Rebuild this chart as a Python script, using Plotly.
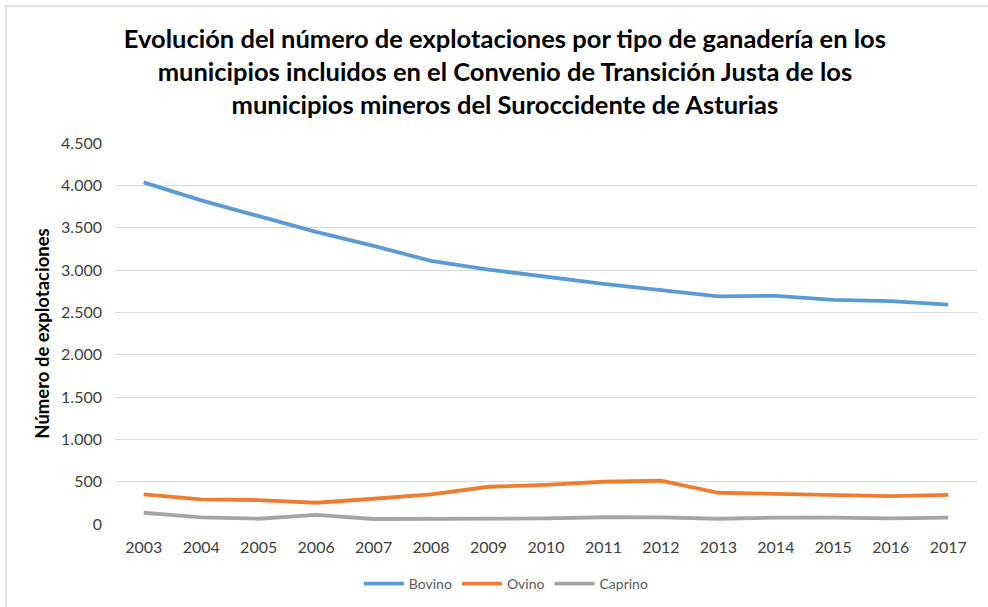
import plotly.graph_objects as go

# Años de la serie
years = ["2003", "2004", "2005", "2006", "2007", "2008", "2009", "2010",
         "2011", "2012", "2013", "2014", "2015", "2016", "2017"]

# Número de explotaciones por tipo de ganadería
bovino = [4035, 3822, 3636, 3450, 3285, 3108, 3005, 2918,
          2836, 2763, 2688, 2695, 2648, 2632, 2590]
ovino = [349, 290, 283, 251, 298, 349, 440, 462,
         499, 511, 369, 357, 342, 330, 345]
caprino = [133, 78, 62, 108, 59, 62, 62, 66,
           80, 78, 62, 76, 76, 66, 76]

series = [("Bovino", bovino, "#5B9BD5"),
          ("Ovino", ovino, "#ED7D31"),
          ("Caprino", caprino, "#A5A5A5")]

y_ticks = [0, 500, 1000, 1500, 2000, 2500, 3000, 3500, 4000, 4500]
y_tick_text = ["0", "500", "1.000", "1.500", "2.000", "2.500",
               "3.000", "3.500", "4.000", "4.500"]

title = ("Evolución del número de explotaciones por tipo de ganadería en los<br>"
         "municipios incluidos en el Convenio de Transición Justa de los<br>"
         "municipios mineros del Suroccidente de Asturias")

fig = go.Figure()
for name, values, color in series:
    fig.add_trace(go.Scatter(
        x=years, y=values, name=name, mode="lines",
        line=dict(color=color, width=3.8),
    ))

fig.update_layout(
    width=988, height=607,
    margin=dict(l=115, r=11, t=143, b=83, autoexpand=False),
    paper_bgcolor="white", plot_bgcolor="white",
    font=dict(family="Lato, sans-serif", color="#404040"),
    title=dict(
        text=title, x=0.511, xanchor="center", y=0.921, yanchor="top",
        font=dict(family="Lato, sans-serif", size=25.5, color="#000000",
                  weight="bold"),
    ),
    showlegend=True,
    legend=dict(
        orientation="h", x=0.454, xanchor="center",
        yref="container", y=0.038, yanchor="middle",
        font=dict(size=14, color="#595959"), itemwidth=40,
        traceorder="normal",
    ),
    shapes=[dict(
        type="rect", xref="paper", yref="paper",
        x0=-109 / 862, x1=1.05, y0=-0.3, y1=1 + 137 / 381,
        line=dict(color="#D9D9D9", width=1.5), layer="below",
    )],
)

fig.update_xaxes(
    type="category", range=[-0.5, len(years) - 0.5],
    showgrid=False, showline=False, zeroline=False, ticks="",
    ticklabelstandoff=12,
    tickfont=dict(size=16, color="#404040"),
)
fig.update_yaxes(
    range=[0, 4500], tickvals=y_ticks, ticktext=y_tick_text,
    showgrid=True, gridcolor="#D9D9D9", gridwidth=1,
    zeroline=False, showline=False, ticks="", ticklabelstandoff=12,
    tickfont=dict(size=16, color="#404040"),
    title=dict(text="Número de explotaciones", standoff=6,
               font=dict(size=18.5, color="#000000", weight="bold")),
)

fig.write_html("out.html")
